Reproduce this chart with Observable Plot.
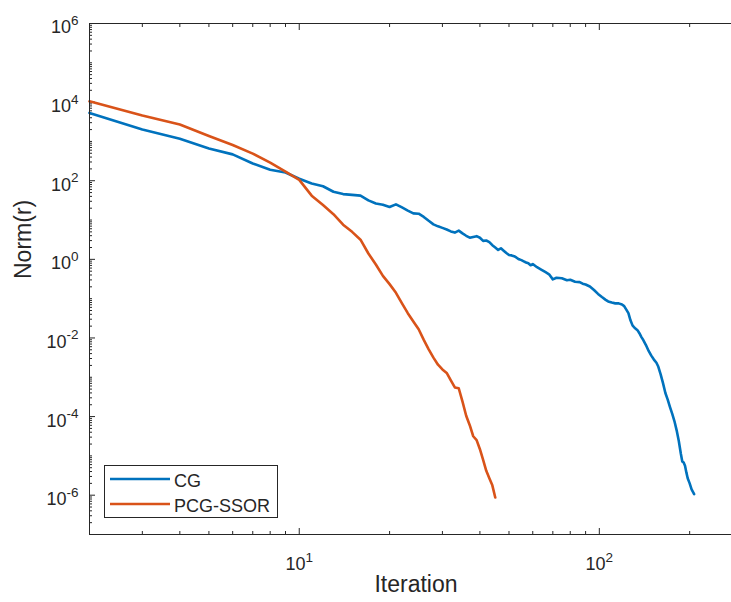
<!DOCTYPE html>
<html><head><meta charset="utf-8">
<script src="https://cdn.jsdelivr.net/npm/d3@7"></script>
<script src="https://cdn.jsdelivr.net/npm/@observablehq/plot@0.6"></script>
<style>
html,body{margin:0;padding:0;background:#fff;}
#wrap{position:relative;width:731px;height:602px;overflow:hidden;}
#wrap svg{max-width:none !important;}
</style></head><body><div id="wrap"></div>
<script>
// ---- data ----
const cgIter = [2,3,4,5,6,7,8,9,10,11,12,13,14,15,16,17,18,19,20,21,22,23,24,25,26,27,28,29,30,31,32,33,34,35,36,37,38,39,40,41,42,43,44,45,46,47,48,49,50,51,52,53,54,55,56,57,58,59,60,62,64,66,68,70,72,75,78,80,83,86,88,90,93,96,99,102,105,107,110,113,116,119,121,123,125,127,129,131,134,136,138,140,143,146,149,152,155,157,160,163,166,169,172,175,178,181,184,187,189,191,193,195,197,200,203,207];
const cgNorm = [5.31e3,2.0e3,1.17e3,661,468,275,191,162,112,85.1,72.4,52.5,45.7,43.6,41.7,31.6,26.3,24.5,21.4,25.1,20.9,17.4,14.8,14.5,12.0,9.55,7.76,6.92,6.31,5.75,5.13,4.79,5.37,4.57,3.98,3.55,3.72,3.89,3.55,2.95,3.02,2.75,2.29,2.0,1.74,1.91,1.66,1.45,1.29,1.26,1.20,1.10,1.0,0.955,0.891,0.832,0.794,0.708,0.759,0.631,0.550,0.479,0.417,0.309,0.339,0.331,0.295,0.302,0.269,0.263,0.240,0.229,0.204,0.166,0.132,0.110,0.0933,0.0851,0.0794,0.0759,0.0759,0.0708,0.0646,0.0525,0.0427,0.0282,0.0209,0.0182,0.0158,0.0132,0.0107,0.00891,0.00661,0.00468,0.00355,0.00282,0.00234,0.00191,0.00120,7.08e-4,3.98e-4,2.69e-4,1.74e-4,1.17e-4,7.59e-5,4.47e-5,2.40e-5,1.12e-5,7.24e-6,6.76e-6,5.62e-6,3.80e-6,2.69e-6,2.0e-6,1.41e-6,1.07e-6];
const pcgIter = [2,3,4,5,6,7,8,9,10,11,12,13,14,15,16,17,18,19,20,21,22,23,24,25,26,27,28,29,30,31,32,33,34,35,36,37,38,39,40,41,42,43,44,45];
const pcgNorm = [1.05e4,4.57e3,2.69e3,1.38e3,813,490,288,170,105,41.7,24.0,14.1,7.59,5.01,3.16,1.41,0.741,0.380,0.234,0.141,0.0759,0.0427,0.0263,0.0166,0.00891,0.00513,0.00316,0.00209,0.00158,0.00129,8.32e-4,5.50e-4,5.25e-4,2.40e-4,1.05e-4,6.03e-5,3.16e-5,2.51e-5,1.48e-5,7.94e-6,4.17e-6,2.69e-6,1.78e-6,8.71e-7];
const seriesNames = ["CG", "PCG-SSOR"];
const seriesColors = ["#0072BD", "#D95319"];
const xTickExponents = [1, 2];
const yTickExponents = [-6, -4, -2, 0, 2, 4, 6];
const xLimits = [2, 300];
const yLimits = [1e-7, 1e6];
const xLabel = "Iteration";
const yLabel = "Norm(r)";

// ---- build table ----
const data = [
  ...cgIter.map((x, i) => ({series: seriesNames[0], x, y: cgNorm[i]})),
  ...pcgIter.map((x, i) => ({series: seriesNames[1], x, y: pcgNorm[i]}))
];
const xMajor = xTickExponents.map(e => 10 ** e);
const yMajor = yTickExponents.map(e => 10 ** e);
const xMinor = [];
for (let e = 0; e <= 2; e++) for (let k = 1; k <= 9; k++) {
  const v = k * 10 ** e;
  if (v >= xLimits[0] && v <= xLimits[1] && !(k === 1 && xTickExponents.includes(e))) xMinor.push(v);
}
const yMinor = [];
for (let e = -7; e <= 5; e++) for (let k = 1; k <= 9; k++) {
  const v = k * 10 ** e;
  if (!(k === 1 && yTickExponents.includes(e))) yMinor.push(v);
}
const fmt = d => "10^" + Math.round(Math.log10(d));
const axisColor = "#262626";

const plot = Plot.plot({
  width: 742, height: 602,
  marginLeft: 89, marginRight: 0, marginTop: 23, marginBottom: 68,
  style: {fontFamily: "'Liberation Sans', Arial, Helvetica, sans-serif", fontSize: "18px", color: axisColor, background: "white", maxWidth: "none"},
  x: {type: "log", domain: xLimits},
  y: {type: "log", domain: yLimits},
  color: {domain: seriesNames, range: seriesColors},
  marks: [
    Plot.axisX(xMinor, {anchor: "bottom", tickSize: -3, fill: "none", label: null}),
    Plot.axisX(xMajor, {anchor: "bottom", tickSize: -6, fill: "none", label: null}),
    Plot.axisX(xMinor, {anchor: "top", tickSize: -3, fill: "none", label: null}),
    Plot.axisX(xMajor, {anchor: "top", tickSize: -6, fill: "none", label: null}),
    Plot.axisY(yMinor, {anchor: "left", tickSize: -3, fill: "none", label: null}),
    Plot.axisY(yMajor, {anchor: "left", tickSize: -6, fill: "none", label: null}),
    Plot.axisX(xMajor, {anchor: "bottom", tickSize: 0, tickPadding: 23, tickFormat: fmt, label: null}),
    Plot.axisY(yMajor, {anchor: "left", tickSize: 0, tickPadding: 11, dy: 4.2, tickFormat: fmt, label: null}),
    Plot.line(data, {x: "x", y: "y", z: "series", stroke: "series", strokeWidth: 2.6, strokeLinejoin: "round", strokeLinecap: "round"}),
    Plot.frame({stroke: axisColor}),
    Plot.text([xLabel], {frameAnchor: "bottom", dy: 57.6, fontSize: 23}),
    Plot.text([yLabel], {frameAnchor: "left", dx: -65.4, rotate: -90, fontSize: 23})
  ]
});
plot.style.maxWidth = "none";

const svg = d3.select(plot);
svg.selectAll('g[aria-label="x-axis tick label"] text, g[aria-label="y-axis tick label"] text').each(function () {
  const m = this.textContent.match(/^10\^(-?\d+)$/);
  if (!m) return;
  this.textContent = "10";
  d3.select(this).append("tspan").attr("dy", -8.5).attr("font-size", "13.5px").text(m[1]);
});

// legend
const lg = svg.append("g").attr("font-size", 18).attr("fill", axisColor).attr("text-anchor", "start");
lg.append("rect").attr("x", 104.5).attr("y", 465.5).attr("width", 173).attr("height", 52)
  .attr("fill", "white").attr("stroke", axisColor);
seriesNames.forEach((name, i) => {
  const y = 479 + i * 25;
  lg.append("line").attr("x1", 110).attr("x2", 170).attr("y1", y).attr("y2", y)
    .attr("stroke", seriesColors[i]).attr("stroke-width", 2.6);
  lg.append("text").attr("x", 174).attr("y", y + 7.5).attr("text-anchor", "start").text(name);
});

document.getElementById("wrap").appendChild(plot);
</script>
</body></html>
